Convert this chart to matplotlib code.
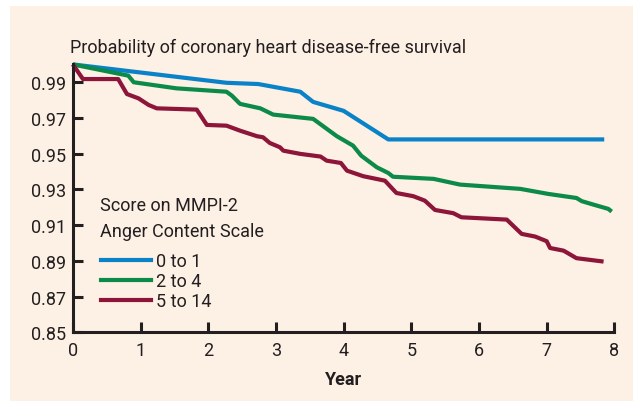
import matplotlib
matplotlib.use("Agg")
import matplotlib.pyplot as plt
from matplotlib.patches import Rectangle
from matplotlib.lines import Line2D
from matplotlib import font_manager

avail = {f.name for f in font_manager.fontManager.ttflist}
font = 'DejaVu Sans'
for cand in ['Liberation Sans Narrow', 'Roboto', 'Roboto Condensed']:
    if cand in avail:
        font = cand
        break
plt.rcParams['font.family'] = [font, 'DejaVu Sans']

# Data
blue_x = [0.0, 2.27, 2.74, 3.36, 3.55, 4.0, 4.66, 7.85]
blue_y = [1.0, 0.9897, 0.989, 0.9847, 0.979, 0.974, 0.958, 0.958]

green_x = [0.0, 0.82, 0.90, 1.53, 2.27, 2.35, 2.47, 2.77, 2.96, 3.55, 3.90, 4.14, 4.26,
           4.49, 4.66, 4.73, 5.33, 5.72, 6.61, 7.02, 7.44, 7.52, 7.69, 7.91, 7.96]
green_y = [1.0, 0.9937, 0.990, 0.9866, 0.9847, 0.9825, 0.9779, 0.9754, 0.9719, 0.9695, 0.9598,
           0.9545, 0.9489, 0.9424, 0.9392, 0.9371, 0.9359, 0.9327, 0.9303, 0.9275, 0.9252,
           0.9234, 0.9215, 0.9191, 0.9176]

red_x = [0.0, 0.15, 0.67, 0.80, 0.97, 1.12, 1.24, 1.83, 1.98, 2.27, 2.47, 2.72, 2.81, 2.91,
         3.06, 3.11, 3.36, 3.66, 3.75, 3.96, 4.05, 4.29, 4.61, 4.78, 5.03, 5.20, 5.35, 5.62,
         5.74, 6.41, 6.63, 6.83, 7.0, 7.05, 7.25, 7.44, 7.84]
red_y = [1.0, 0.9918, 0.9918, 0.9834, 0.981, 0.9773, 0.9754, 0.9747, 0.9661, 0.9657, 0.9629,
         0.9598, 0.9592, 0.956, 0.9536, 0.9517, 0.9499, 0.9484, 0.9461, 0.9448, 0.9405, 0.9374,
         0.9349, 0.928, 0.9262, 0.9237, 0.9185, 0.9167, 0.9144, 0.9131, 0.9051, 0.9036, 0.901,
         0.8972, 0.8957, 0.8915, 0.8896]

labels = ['0 to 1', '2 to 4', '5 to 14']
colors = ['#0a82c8', '#0b8a4a', '#8c1539']
yticks = [0.85, 0.87, 0.89, 0.91, 0.93, 0.95, 0.97, 0.99]
xticks = [0, 1, 2, 3, 4, 5, 6, 7, 8]

W, H = 633, 406
fig = plt.figure(figsize=(W / 100, H / 100), dpi=100)
fig.patch.set_facecolor('white')
bg = '#fdf0e4'
fig.patches.append(Rectangle((10 / W, 4 / H), 1 - 10 / W, (402 - 7) / H,
                             transform=fig.transFigure, facecolor=bg, edgecolor='none',
                             zorder=-10))

ax = fig.add_axes([72.8 / W, 1 - 333.3 / H, (614.4 - 72.8) / W, (333.3 - 65.4) / H])
ax.set_facecolor('none')
ax.set_zorder(5)

fs = 13 if font == 'Roboto' else (14.5 if font == 'Roboto Condensed' else 13.5)

for xs, ys, c, lab in zip([blue_x, green_x, red_x], [blue_y, green_y, red_y], colors, labels):
    ax.plot(xs, ys, color=c, lw=3.0, solid_joinstyle='round', solid_capstyle='butt', label=lab,
            clip_on=False)

ax.set_xlim(0, 8)
ax.set_ylim(0.85, 1.0)
ax.set_xticks(xticks)
ax.set_xticklabels([str(v) for v in xticks])
ax.set_yticks(yticks)
ax.set_yticklabels(['%.2f' % v for v in yticks])
for s in ['top', 'right']:
    ax.spines[s].set_visible(False)
spc = '#231f20'
for s in ['left', 'bottom']:
    ax.spines[s].set_color(spc)
    ax.spines[s].set_linewidth(2.2)
ax.tick_params(axis='both', direction='in', length=7, width=2.2, color=spc,
               labelsize=fs, labelcolor='#231f20')
ax.tick_params(axis='x', pad=6)
ax.tick_params(axis='y', pad=5)

ax.set_xlabel('Year', fontsize=fs, fontweight='bold', color='#231f20', labelpad=8)

fig.text(70 / W, 1 - 48 / H, 'Probability of coronary heart disease-free survival',
         fontsize=fs, color='#231f20', ha='left', va='center')

fig.text(100 / W, 1 - 206 / H, 'Score on MMPI-2', fontsize=fs, color='#231f20',
         ha='left', va='center')
fig.text(100 / W, 1 - 232 / H, 'Anger Content Scale', fontsize=fs, color='#231f20',
         ha='left', va='center')

handles = [Line2D([], [], color=c, lw=3) for c in colors]
leg = ax.legend(handles, labels, loc='upper left', bbox_to_anchor=(101 / W, 1 - 253 / H),
                bbox_transform=fig.transFigure, frameon=False, fontsize=fs,
                handlelength=2.75, handletextpad=0.3, labelspacing=0.12, borderpad=0,
                borderaxespad=0)
for t in leg.get_texts():
    t.set_color('#231f20')

fig.savefig('out.png', dpi=100, facecolor=fig.get_facecolor())
